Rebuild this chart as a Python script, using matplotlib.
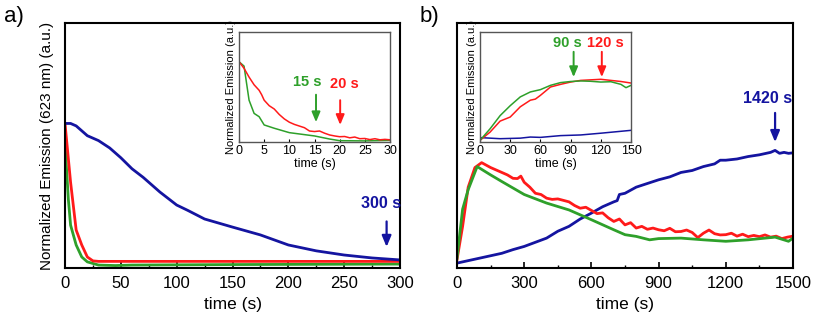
import matplotlib
matplotlib.use("Agg")
import matplotlib.pyplot as plt

plt.rcParams['font.family'] = ['Liberation Sans', 'DejaVu Sans']

BLUE = "#1414a0"
RED = "#ff1a1a"
GREEN = "#2ea02a"

# ---- panel a: main ----
a_blue_t = [0, 5, 10, 15, 20, 30, 40, 50, 60, 70, 85, 100, 110, 125, 150, 175, 200, 225, 250, 275, 300]
a_blue_y = [0.59, 0.59, 0.58, 0.56, 0.54, 0.52, 0.49, 0.45, 0.405, 0.37, 0.31, 0.257, 0.235, 0.2, 0.167, 0.135, 0.094, 0.07, 0.053, 0.041, 0.033]
a_red_t = [0, 5, 10, 15, 20, 25, 30, 100, 200, 300]
a_red_y = [0.59, 0.35, 0.155, 0.094, 0.045, 0.029, 0.027, 0.027, 0.027, 0.027]
a_green_t = [0, 3, 5, 10, 15, 20, 30, 45, 60, 150, 300]
a_green_y = [0.51, 0.28, 0.175, 0.094, 0.045, 0.025, 0.012, 0.01, 0.012, 0.014, 0.016]

# ---- panel a: inset ----
ai_green_t = [0, 1, 2, 3, 4, 5, 7, 10, 15, 18, 20, 25, 30]
ai_green_y = [0.73, 0.69, 0.38, 0.26, 0.23, 0.155, 0.125, 0.085, 0.055, 0.027, 0.012, 0.01, 0.015]
ai_red_t = [0, 1, 2, 3, 4, 4.5, 5, 6, 7, 8, 9, 10, 11, 12, 13, 14, 15, 16, 17, 18, 19, 20, 21, 22, 23, 24, 25, 26, 27, 28, 29, 30]
ai_red_y = [0.73, 0.67, 0.59, 0.52, 0.47, 0.43, 0.38, 0.33, 0.30, 0.25, 0.21, 0.18, 0.16, 0.145, 0.13, 0.10, 0.095, 0.10, 0.08, 0.064, 0.055, 0.048, 0.05, 0.038, 0.045, 0.03, 0.032, 0.022, 0.03, 0.02, 0.024, 0.02]

# ---- panel b: main ----
b_blue_t = [0, 50, 100, 150, 200, 250, 300, 350, 400, 450, 500, 550, 600, 650, 700, 715, 725, 750, 800, 850, 900, 950, 1000, 1050, 1100, 1150, 1175, 1200, 1250, 1300, 1350, 1400, 1420, 1440, 1460, 1480, 1500]
b_blue_y = [0.02, 0.03, 0.04, 0.05, 0.06, 0.075, 0.088, 0.105, 0.122, 0.15, 0.17, 0.2, 0.224, 0.25, 0.27, 0.275, 0.3, 0.305, 0.33, 0.345, 0.36, 0.372, 0.39, 0.398, 0.414, 0.425, 0.44, 0.44, 0.445, 0.455, 0.462, 0.472, 0.48, 0.468, 0.472, 0.468, 0.47]
b_red_t = [0, 25, 50, 80, 110, 130, 150, 175, 200, 225, 250, 270, 285, 300, 325, 350, 375, 400, 425, 450, 475, 500, 525, 550, 575, 600, 625, 650, 675, 700, 725, 750, 775, 800, 825, 850, 875, 900, 925, 950, 975, 1000, 1025, 1050, 1075, 1100, 1125, 1150, 1175, 1200, 1225, 1250, 1275, 1300, 1325, 1350, 1375, 1400, 1425, 1450, 1475, 1500]
b_red_y = [0.034, 0.17, 0.33, 0.41, 0.43, 0.42, 0.41, 0.4, 0.39, 0.38, 0.366, 0.365, 0.375, 0.35, 0.33, 0.305, 0.3, 0.285, 0.28, 0.282, 0.276, 0.27, 0.255, 0.244, 0.248, 0.235, 0.222, 0.225, 0.205, 0.19, 0.2, 0.176, 0.185, 0.163, 0.17, 0.158, 0.163, 0.156, 0.152, 0.162, 0.148, 0.149, 0.155, 0.145, 0.124, 0.142, 0.155, 0.14, 0.135, 0.136, 0.142, 0.13, 0.138, 0.128, 0.133, 0.128, 0.135, 0.126, 0.13, 0.12, 0.126, 0.13]
b_green_t = [0, 25, 50, 90, 150, 200, 300, 400, 500, 600, 700, 750, 800, 860, 900, 1000, 1100, 1200, 1300, 1420, 1480, 1500]
b_green_y = [0.04, 0.24, 0.32, 0.414, 0.38, 0.353, 0.3, 0.265, 0.237, 0.197, 0.156, 0.136, 0.129, 0.115, 0.12, 0.122, 0.115, 0.109, 0.115, 0.126, 0.109, 0.122]

# ---- panel b: inset ----
bi_green_t = [0, 10, 20, 30, 40, 50, 60, 70, 80, 90, 100, 110, 120, 130, 140, 145, 150]
bi_green_y = [0.015, 0.12, 0.24, 0.33, 0.41, 0.455, 0.476, 0.515, 0.54, 0.55, 0.555, 0.552, 0.545, 0.548, 0.524, 0.494, 0.515]
bi_red_t = [0, 10, 20, 30, 40, 50, 55, 60, 70, 80, 90, 100, 110, 120, 130, 140, 150]
bi_red_y = [0.015, 0.09, 0.19, 0.227, 0.32, 0.38, 0.39, 0.424, 0.5, 0.524, 0.545, 0.56, 0.565, 0.57, 0.56, 0.55, 0.536]
bi_blue_t = [0, 20, 40, 50, 60, 80, 100, 120, 150]
bi_blue_y = [0.04, 0.03, 0.035, 0.045, 0.042, 0.058, 0.064, 0.08, 0.106]

W, H = 813, 322
fig = plt.figure(figsize=(W / 100, H / 100), dpi=100)


def px_axes(x0, y0, x1, y1):
    return fig.add_axes([x0 / W, 1 - y1 / H, (x1 - x0) / W, (y1 - y0) / H])


def style_main(ax):
    for s in ax.spines.values():
        s.set_linewidth(1.5)
    ax.set_yticks([])
    ax.tick_params(axis='x', direction='in', labelsize=12, width=1.2, length=4, pad=6)
    ax.tick_params(axis='x', which='minor', direction='in', width=1, length=2.5)
    ax.set_ylim(0, 1)


def style_inset(ax):
    for s in ax.spines.values():
        s.set_linewidth(1.0)
        s.set_color('#555555')
    ax.set_yticks([])
    ax.tick_params(axis='x', direction='in', labelsize=9, length=2.5, pad=2)
    ax.set_ylim(0, 1)
    ax.set_xlabel('time (s)', fontsize=9, labelpad=1)
    ax.set_ylabel('Normalized Emission (a.u.)', fontsize=8, labelpad=2)


def arrow(ax, x, y0, y1, color, lw, ms):
    ax.annotate('', xy=(x, y1), xytext=(x, y0),
                arrowprops=dict(arrowstyle='-|>,head_length=0.6,head_width=0.25',
                                color=color, lw=lw, mutation_scale=ms,
                                shrinkA=0, shrinkB=0))


# panel a
ax1 = px_axes(65, 23, 400, 268)
ax1.plot(a_green_t, a_green_y, color=GREEN, lw=2)
ax1.plot(a_red_t, a_red_y, color=RED, lw=2)
ax1.plot(a_blue_t, a_blue_y, color=BLUE, lw=2)
ax1.set_xlim(0, 300)
ax1.set_xticks(range(0, 301, 50))
ax1.set_xticks(range(0, 301, 25), minor=True)
style_main(ax1)
ax1.set_xlabel('time (s)', fontsize=12.5, labelpad=4)
ax1.set_ylabel('Normalized Emission (623 nm) (a.u.)', fontsize=11, labelpad=8)
arrow(ax1, 288, 0.19, 0.086, BLUE, 1.6, 11)
ax1.text(283, 0.265, '300 s', color=BLUE, fontsize=11.5, fontweight='bold', ha='center', va='center')
fig.text(4 / W, 1 - 22 / H, 'a)', fontsize=16)

ins1 = px_axes(239, 32, 390, 142)
ins1.plot(ai_green_t, ai_green_y, color=GREEN, lw=1.1)
ins1.plot(ai_red_t, ai_red_y, color=RED, lw=1.1)
ins1.set_xlim(0, 30)
ins1.set_xticks(range(0, 31, 5))
style_inset(ins1)
arrow(ins1, 15.3, 0.43, 0.18, GREEN, 1.4, 10)
arrow(ins1, 20.1, 0.38, 0.155, RED, 1.4, 10)
ins1.text(13.6, 0.545, '15 s', color=GREEN, fontsize=10.5, fontweight='bold', ha='center', va='center')
ins1.text(20.9, 0.53, '20 s', color=RED, fontsize=10.5, fontweight='bold', ha='center', va='center')

# panel b
ax2 = px_axes(457, 23, 793, 268)
ax2.plot(b_blue_t, b_blue_y, color=BLUE, lw=2)
ax2.plot(b_red_t, b_red_y, color=RED, lw=2)
ax2.plot(b_green_t, b_green_y, color=GREEN, lw=2)
ax2.set_xlim(0, 1500)
ax2.set_xticks(range(0, 1501, 300))
ax2.set_xticks(range(0, 1501, 150), minor=True)
style_main(ax2)
ax2.set_xlabel('time (s)', fontsize=12.5, labelpad=4)
arrow(ax2, 1420, 0.633, 0.514, BLUE, 1.6, 11)
ax2.text(1385, 0.69, '1420 s', color=BLUE, fontsize=11.5, fontweight='bold', ha='center', va='center')
fig.text(420 / W, 1 - 22 / H, 'b)', fontsize=16)

ins2 = px_axes(480, 32, 631, 142)
ins2.plot(bi_blue_t, bi_blue_y, color=BLUE, lw=1.1)
ins2.plot(bi_red_t, bi_red_y, color=RED, lw=1.1)
ins2.plot(bi_green_t, bi_green_y, color=GREEN, lw=1.1)
ins2.set_xlim(0, 150)
ins2.set_xticks(range(0, 151, 30))
style_inset(ins2)
arrow(ins2, 93, 0.82, 0.59, GREEN, 1.4, 10)
arrow(ins2, 121, 0.82, 0.59, RED, 1.4, 10)
ins2.text(87, 0.9, '90 s', color=GREEN, fontsize=10.5, fontweight='bold', ha='center', va='center')
ins2.text(125, 0.9, '120 s', color=RED, fontsize=10.5, fontweight='bold', ha='center', va='center')

fig.savefig('out.png', dpi=100)
